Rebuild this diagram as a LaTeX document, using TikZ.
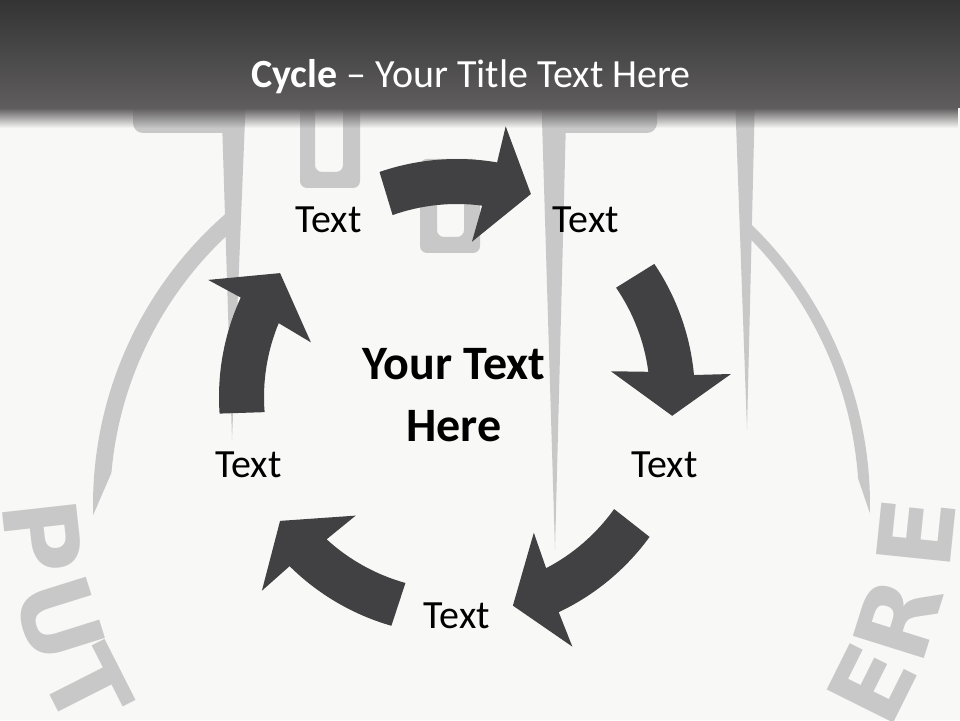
\documentclass[tikz,border=0pt]{standalone}
\usepackage{fontspec}
\setmainfont{Carlito}
\newfontfamily\markfont{DejaVu Sans}
\usetikzlibrary{fadings}

\definecolor{pagebg}{RGB}{248,248,246}
\definecolor{bartop}{RGB}{52,52,52}
\definecolor{barbot}{RGB}{95,93,94}
\definecolor{markgray}{RGB}{200,200,200}
\definecolor{arrowgray}{RGB}{65,64,66}

\tikzfading[name=fade down, top color=transparent!0, bottom color=transparent!100]

\tikzset{
  markshape/.style={fill=markgray},
  markletter/.style={text=markgray, font=\markfont\bfseries\fontsize{102}{102}\selectfont, inner sep=0pt},
  cyclearrow/.style={fill=arrowgray},
  steptext/.style={font=\fontsize{40}{48}\selectfont, inner sep=0pt},
  hubtext/.style={font=\bfseries\fontsize{48}{62.7}\selectfont, align=center, inner sep=0pt},
  titletext/.style={font=\fontsize{40}{48}\selectfont, text=white, inner sep=0pt}
}

\begin{document}
\begin{tikzpicture}[x=1pt, y=1pt]
    \useasboundingbox (0,0) rectangle (960,720);
    \clip (0,0) rectangle (960,720);
    \fill[pagebg] (0,0) rectangle (960,720);

    % watermark
    \fill[markshape, rounded corners=10] (133,587) rectangle (245,625);
    \fill[markshape] (222,600) -- (245,600) -- (232,280) -- cycle;
    \fill[markshape, rounded corners=10] (542,587) rectangle (657,625);
    \fill[markshape] (542,600) -- (566,600) -- (555,170) -- cycle;
    \fill[markshape] (735,625) -- (755,625) -- (747,290) -- cycle;
    \fill[markshape, even odd rule, rounded corners=7] (300,625) rectangle (360,532) (315,625) rectangle (343,548);
    \fill[markshape, even odd rule, rounded corners=7] (420,561) rectangle (480,467) (437,545) rectangle (464,483);
    \begin{scope}[shift={(479,215)}]
        \fill[markshape] (131:386) arc[start angle=131, end angle=181.5, radius=386] -- (175:369) arc[start angle=175, end angle=131, radius=369] -- cycle;
        \fill[markshape] (46:391) arc[start angle=46, end angle=-1.2, radius=391] -- (4:380) arc[start angle=4, end angle=46, radius=380] -- cycle;
    \end{scope}
    \begin{scope}[shift={(479,232)}]
        \foreach \ch/\ang [count=\i] in {P/186.4, U/197.4, T/206.9, E/354.1, R/342.6, E/333.5}
            \node[markletter, rotate=\ang+90] (mark\i) at (\ang:439) {\ch};
    \end{scope}

    % title bar
    \shade[top color=bartop, bottom color=barbot] (0,612) rectangle (960,720);
    \fill[barbot, path fading=fade down] (0,592) rectangle (960,612);
    \node[titletext, anchor=base] (title) at (471,632) {\textbf{Cycle} – Your Title Text Here};

    % arrows
    \begin{scope}[shift={(457,323)}]
        \foreach \a in {89.5,14.5,-55.5,-125.5,164.5}
            \fill[cyclearrow] ({\a+19.5}:238) arc[start angle=\a+19.5, end angle=\a-9.2, radius=238]
                -- ({\a-9.7}:275) -- ({\a-19.5}:216) -- ({\a-5}:156) -- ({\a-7}:193)
                arc[start angle=\a-7, end angle=\a+20, radius=193] -- cycle;
    \end{scope}

    \node[steptext] (stepa) at (328.5,500.5) {Text};
    \node[steptext] (stepb) at (586,500.5) {Text};
    \node[steptext] (stepc) at (664.6,255.5) {Text};
    \node[steptext] (stepd) at (457,104.3) {Text};
    \node[steptext] (stepe) at (248.6,255.5) {Text};
    \node[hubtext] (hub) at (454,324.8) {Your Text\\Here};
\end{tikzpicture}
\end{document}
